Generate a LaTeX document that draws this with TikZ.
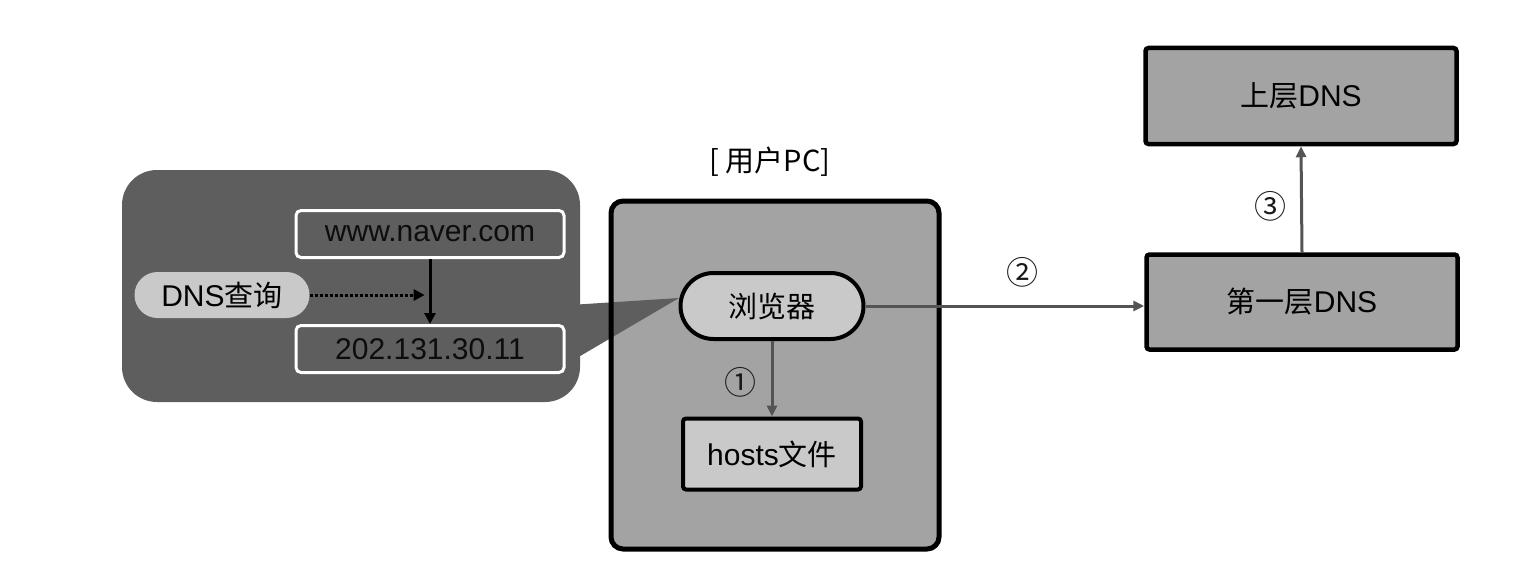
\documentclass[tikz,border=0pt]{standalone}
\usepackage{fontspec}
\setmainfont{Liberation Sans}
\newfontfamily\cjk{Noto Sans CJK SC}
\usetikzlibrary{arrows.meta,shapes.misc}
\definecolor{darkfill}{HTML}{5E5E5E}
\definecolor{midfill}{HTML}{A3A3A3}
\definecolor{lightfill}{HTML}{C9C9C9}
\definecolor{arrowgray}{HTML}{545454}
\tikzset{
  txt/.style={font=\fontsize{30}{33}\selectfont, text=black, inner sep=0pt},
  whitebox/.style={draw=white, line width=3pt, fill=darkfill, rounded corners=5pt, minimum width=268pt, minimum height=47pt, txt, text=black!95},
  pill/.style={rounded rectangle, fill=lightfill, txt},
  thickbox/.style={draw=black, line width=4.5pt, fill=midfill, rounded corners=3pt, txt},
  conn/.style={draw=arrowgray, line width=3pt, -{Triangle[length=11pt,width=10pt]}},
  num/.style={font=\cjk\fontsize{32}{34}\selectfont, text=black!90, inner sep=0pt},
}
\begin{document}
\begin{tikzpicture}[x=1pt,y=-1pt]
\useasboundingbox (0,0) rectangle (1540,578);
\fill[white] (0,0) rectangle (1540,578);
% callout
\fill[darkfill, rounded corners=35pt] (122,170) rectangle (580,402);
% user PC box fill
\node[fill=midfill, rounded corners=12pt, minimum width=328pt, minimum height=348pt, inner sep=0pt] (pcfill) at (775,375) {};
% pointer
\fill[darkfill] (570,305) -- (679,298) -- (570,362) -- cycle;
% PC border
\node[draw=black, line width=5pt, rounded corners=12pt, minimum width=328pt, minimum height=348pt, inner sep=0pt] (pc) at (775,375) {};
\node[font=\cjk\fontsize{29}{32}\selectfont, inner sep=0pt] (pclabel) at (770,162) {[ 用户PC]};
% callout contents
\node[whitebox] (www) at (430,234) {www.naver.com};
\node[whitebox] (ip) at (430,349) {202.131.30.11};
\node[pill, minimum width=175pt, minimum height=46pt] (query) at (222,295) {DNS{\cjk\fontsize{29}{32}\selectfont 查询}};
\draw[black, line width=3pt, -{Triangle[length=11pt,width=11pt]}] (www.south) -- (ip.north);
\draw[black, line width=3pt, dotted, -{Triangle[length=11pt,width=11pt]}] (query.east) -- ++(115,0) coordinate (dq);
% browser & hosts
\node[pill, draw=black, line width=4pt, minimum width=183pt, minimum height=66pt, font=\cjk\fontsize{29}{32}\selectfont] (browser) at (772,306) {浏览器};
\node[thickbox, line width=4pt, fill=lightfill, minimum width=178pt, minimum height=71pt] (hosts) at (772,454) {hosts{\cjk\fontsize{29}{32}\selectfont 文件}};
\draw[conn] (browser.south) -- (hosts.north);
\node[num] (n1) at (740,382) {①};
% DNS servers
\node[thickbox, minimum width=311pt, minimum height=95pt] (first) at (1302,302) {{\cjk\fontsize{29}{32}\selectfont 第一层}DNS};
\node[thickbox, minimum width=311pt, minimum height=96pt] (upper) at (1301,96) {{\cjk\fontsize{29}{32}\selectfont 上层}DNS};
\draw[conn] (browser.east) -- (browser.east -| first.west);
\node[num] (n2) at (1022,272) {②};
\draw[conn] (first.north) -- (upper.south);
\node[num] (n3) at (1270,206) {③};
\end{tikzpicture}
\end{document}
